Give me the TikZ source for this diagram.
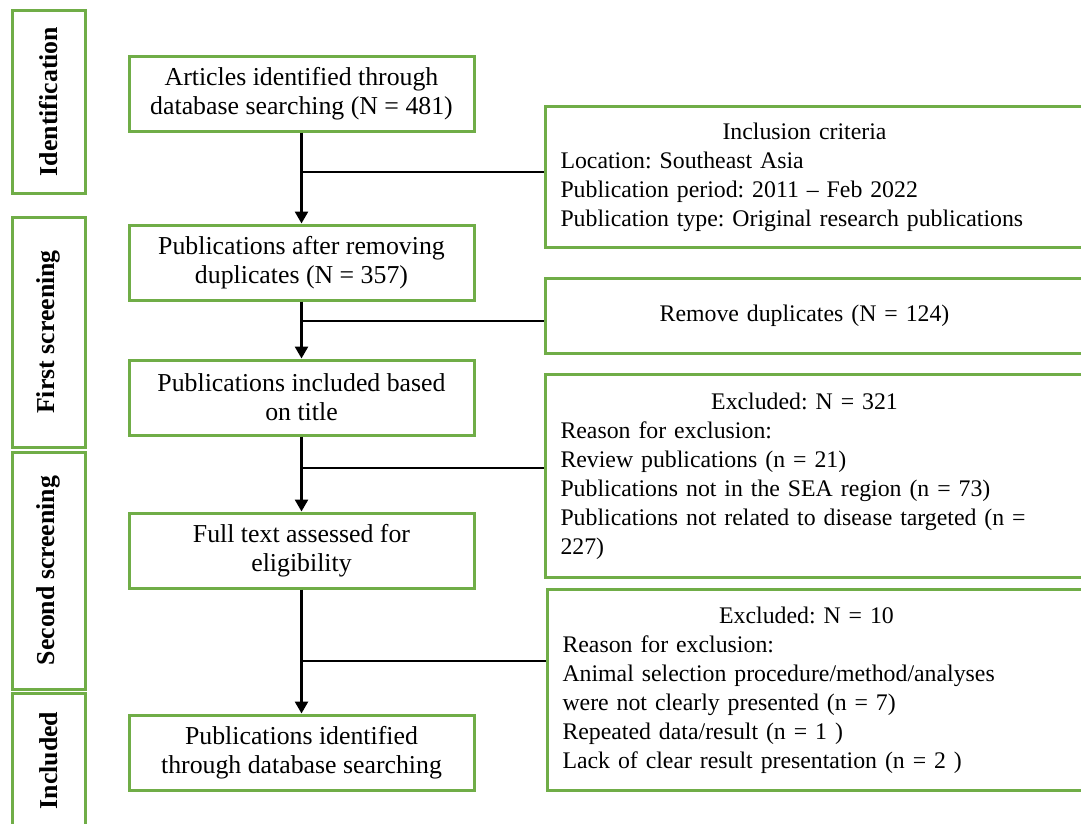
\documentclass[tikz,border=0pt]{standalone}
\usepackage{fontspec}
\setmainfont{Liberation Serif}
\usetikzlibrary{arrows.meta, positioning}
\definecolor{boxgreen}{RGB}{112,173,71}
\newcommand{\hd}[1]{\makebox[488pt][c]{#1}}
\frenchspacing

\begin{document}
\begin{tikzpicture}[x=1pt, y=-1pt,
  stage/.style={draw=boxgreen, line width=3pt, rotate=90, minimum height=73pt,
                font=\fontsize{25.8}{29}\selectfont\bfseries, inner sep=0pt},
  box/.style={draw=boxgreen, line width=3pt, minimum width=345pt, minimum height=75pt,
              align=center, font=\fontsize{25.8}{29}\selectfont, inner sep=0pt},
  rbox/.style={draw=boxgreen, line width=3pt, anchor=north west, text width=530pt,
               inner xsep=15pt, inner ysep=0pt, align=left, font=\fontsize{23.8}{29}\selectfont},
  arr/.style={-{Triangle[length=12pt, width=13pt]}, line width=2.6pt},
  link/.style={line width=1.5pt}
]
  \useasboundingbox (0,0) rectangle (1081,823);
  \clip (0,0) rectangle (1081,823);

  % stages
  \node[stage, minimum width=183pt] (ident)  at (48.5,101.5) {Identification};
  \node[stage, minimum width=230pt] (first)  at (48.5,332)   {First screening};
  \node[stage, minimum width=237pt] (second) at (48.5,570.5) {Second screening};
  \node[stage, minimum width=135pt] (incl)   at (48.5,760.5) {Included};

  % main flow
  \node[box] (art)  at (301.5,93.5)  {Articles identified through\\database searching (N = 481)};
  \node[box] (dup)  at (301.5,262.5) {Publications after removing\\duplicates (N = 357)};
  \node[box] (tit)  at (301.5,397.5) {Publications included based\\on title};
  \node[box] (full) at (301.5,550.5) {Full text assessed for\\eligibility};
  \node[box] (fin)  at (301.5,752.5) {Publications identified\\through database searching};

  % side boxes
  \node[rbox, minimum height=141pt] (crit) at (544,105)
    {\hd{Inclusion criteria}\\Location: Southeast Asia\\Publication period: 2011 -- Feb 2022\\Publication type: Original research publications};
  \node[rbox, minimum height=75pt] (rem) at (544,277) {\hd{Remove duplicates (N = 124)}};
  \node[rbox, minimum height=203pt] (exa) at (544,373)
    {\hd{Excluded: N = 321}\\Reason for exclusion:\\Review publications (n = 21)\\Publications not in the SEA region (n = 73)\\Publications not related to disease targeted (n =\\227)};
  \node[rbox, minimum height=201pt] (exb) at (546,588)
    {\hd{Excluded: N = 10}\\Reason for exclusion:\\Animal selection procedure/method/analyses\\were not clearly presented (n = 7)\\Repeated data/result (n = 1 )\\Lack of clear result presentation (n = 2 )};

  \draw[arr] (art)  -- (dup);
  \draw[arr] (dup)  -- (tit);
  \draw[arr] (tit)  -- (full);
  \draw[arr] (full) -- (fin);

  \coordinate (j1) at (301.5,172);
  \coordinate (j2) at (301.5,321);
  \coordinate (j3) at (301.5,468);
  \coordinate (j4) at (301.5,661);
  \draw[link] (j1) -- (j1 -| crit.west);
  \draw[link] (j2) -- (j2 -| rem.west);
  \draw[link] (j3) -- (j3 -| exa.west);
  \draw[link] (j4) -- (j4 -| exb.west);
\end{tikzpicture}
\end{document}
